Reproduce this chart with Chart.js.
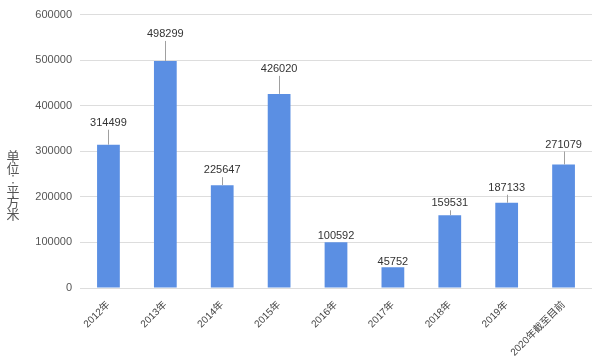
<!DOCTYPE html>
<html>
<head>
<meta charset="utf-8">
<script src="https://cdn.jsdelivr.net/npm/chart.js@4/dist/chart.umd.min.js"></script>
<style>
html,body{margin:0;padding:0;background:#fff;}
#wrap{width:600px;height:358px;position:relative;}
</style>
</head>
<body>
<div id="wrap"><canvas id="c"></canvas></div>
<script>
const categories = ["2012年","2013年","2014年","2015年","2016年","2017年","2018年","2019年","2020年截至目前"];
const areaValues = [314499, 498299, 225647, 426020, 100592, 45752, 159531, 187133, 271079];
const yTickMax = 600000;
const yTickStep = 100000;
const yAxisTitle = "单位：平方米";

// callout distances (style, in px) for each label above its bar
const calloutOffsets = [22, 27, 15, 25, 6, 5, 12, 15, 20];

const calloutPlugin = {
  id: 'callouts',
  afterDatasetsDraw(chart) {
    const ctx = chart.ctx;
    const meta = chart.getDatasetMeta(0);
    ctx.save();
    ctx.font = '11px "Liberation Sans", Arial, sans-serif';
    ctx.textAlign = 'center';
    ctx.textBaseline = 'middle';
    meta.data.forEach((bar, i) => {
      const off = calloutOffsets[i];
      const x = bar.x, y = bar.y;
      const ty = y - off;
      if (off > 9) {
        ctx.strokeStyle = '#a0a0a0';
        ctx.lineWidth = 1;
        ctx.beginPath();
        ctx.moveTo(Math.round(x) + 0.5, y);
        ctx.lineTo(Math.round(x) + 0.5, ty + 7);
        ctx.stroke();
      }
      ctx.fillStyle = '#333';
      ctx.fillText(String(chart.data.datasets[0].data[i]), x, ty);
    });
    ctx.restore();
  }
};

const verticalTitlePlugin = {
  id: 'vtitle',
  afterDraw(chart) {
    const ctx = chart.ctx;
    const chars = Array.from(yAxisTitle);
    const step = 11.5;
    const cy = 185;
    ctx.save();
    ctx.font = '13px "Noto Sans CJK SC", sans-serif';
    ctx.fillStyle = '#555';
    ctx.textAlign = 'center';
    ctx.textBaseline = 'middle';
    const start = cy - (chars.length - 1) * step / 2;
    chars.forEach((ch, i) => {
      ctx.fillText(ch === '：' ? '︰' : ch, 13, start + i * step);
    });
    ctx.restore();
  }
};

new Chart(document.getElementById('c'), {
  type: 'bar',
  data: {
    labels: categories,
    datasets: [{
      data: areaValues,
      backgroundColor: '#5b8fe3',
      borderWidth: 0,
      barPercentage: 0.4,
      categoryPercentage: 1.0
    }]
  },
  options: {
    responsive: true,
    maintainAspectRatio: false,
    animation: false,
    layout: { padding: { left: 25, right: 8, top: -1, bottom: 0 } },
    plugins: {
      legend: { display: false },
      tooltip: { enabled: false }
    },
    scales: {
      x: {
        grid: { display: false },
        border: { display: false },
        ticks: {
          color: '#444',
          font: { size: 10, family: '"Liberation Sans", "Noto Sans CJK SC", Arial, sans-serif' },
          minRotation: 45,
          maxRotation: 45,
          autoSkip: false
        },
        afterFit(scale) { scale.height = 70; }
      },
      y: {
        min: 0,
        max: yTickMax,
        grid: { color: '#dddddd', drawTicks: false },
        border: { display: false },
        ticks: {
          stepSize: yTickStep,
          color: '#555',
          padding: 8,
          font: { size: 11, family: '"Liberation Sans", Arial, sans-serif' },
          callback: (v) => String(v)
        },
        afterFit(scale) { scale.width = 55; }
      }
    }
  },
  plugins: [calloutPlugin, verticalTitlePlugin]
});
</script>
</body>
</html>
